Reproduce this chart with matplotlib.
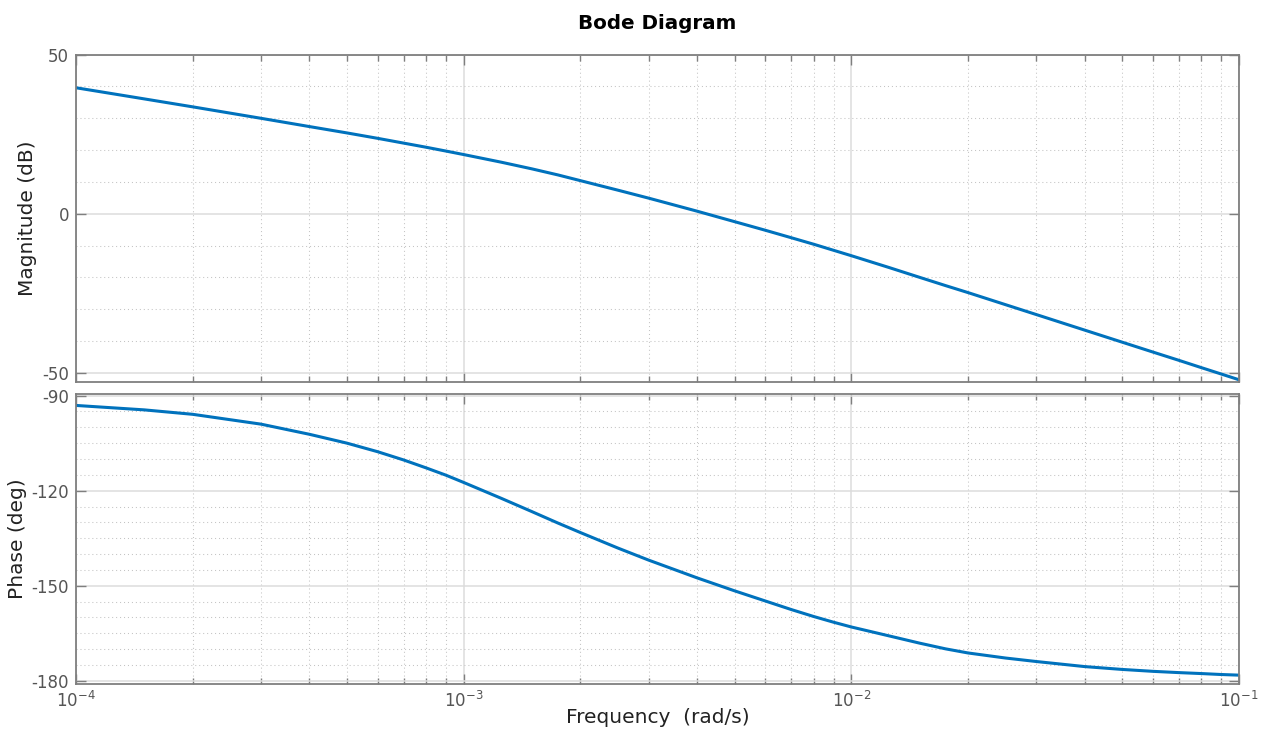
import matplotlib
matplotlib.use('Agg')
import matplotlib.pyplot as plt
from matplotlib.ticker import MultipleLocator, LogLocator, NullFormatter

# frequency points (rad/s), magnitude and phase
freq = [1e-4, 1.5e-4, 2e-4, 3e-4, 4e-4, 5e-4, 6e-4, 7e-4, 8e-4, 9e-4,
        1e-3, 1.25e-3, 1.5e-3, 1.75e-3, 2e-3, 2.5e-3, 3e-3, 4e-3, 5e-3, 6e-3,
        7e-3, 8e-3, 9e-3, 1e-2, 1.25e-2, 1.5e-2, 1.75e-2, 2e-2, 2.5e-2, 3e-2,
        4e-2, 5e-2, 6e-2, 7e-2, 8e-2, 9e-2, 1e-1]
mag_db = [39.6, 36.1, 33.6, 30.0, 27.4, 25.4, 23.7, 22.2, 20.9, 19.7,
          18.6, 16.2, 14.1, 12.2, 10.4, 7.4, 4.9, 0.8, -2.5, -5.2,
          -7.55, -9.6, -11.5, -13.2, -16.9, -20.0, -22.6, -24.8, -28.6, -31.7,
          -36.6, -40.4, -43.5, -46.1, -48.4, -50.4, -52.2]
phase_deg = [-93.1, -94.5, -95.9, -99.0, -102.2, -105.0, -107.7, -110.3, -112.8, -115.1,
             -117.4, -122.4, -126.6, -130.2, -133.2, -138.1, -141.9, -147.5, -151.6, -154.8,
             -157.5, -159.7, -161.5, -163.0, -165.8, -168.1, -169.9, -171.2, -172.8, -173.9,
             -175.5, -176.4, -177.0, -177.4, -177.7, -178.0, -178.2]

plt.rcParams['font.family'] = ['DejaVu Sans']
plt.rcParams['axes.unicode_minus'] = False

line_c = '#0072BD'
spine_c = '#7f7f7f'
tick_c = '#555555'

fig = plt.figure(figsize=(12.64, 7.29), dpi=100)
ax1 = fig.add_axes([0.0601, 0.4756, 0.9201, 0.4494])
ax2 = fig.add_axes([0.0601, 0.0617, 0.9201, 0.3978])

def style(ax):
	ax.set_xscale('log')
	ax.set_xlim(1e-4, 1e-1)
	ax.xaxis.set_major_locator(LogLocator(base=10, numticks=10))
	ax.xaxis.set_minor_locator(LogLocator(base=10, subs=range(2, 10), numticks=20))
	ax.xaxis.set_minor_formatter(NullFormatter())
	for s in ax.spines.values():
		s.set_color(spine_c)
		s.set_linewidth(1.3)
	ax.tick_params(which='both', direction='in', top=True, right=True,
	               colors=spine_c, labelcolor=tick_c, labelsize=12, width=1)
	ax.tick_params(which='major', length=7, pad=5)
	ax.tick_params(which='minor', length=4)
	ax.tick_params(axis='y', which='minor', length=0)
	ax.grid(True, which='major', color='#dcdcdc', linestyle='-', linewidth=1.1)
	ax.grid(True, which='minor', color='#c4c4c4', linestyle=(0, (1, 2.8)), linewidth=0.75)
	ax.set_axisbelow(True)

ax1.plot(freq, mag_db, color=line_c, linewidth=2.2)
style(ax1)
ax1.set_ylim(-53, 50)
ax1.set_yticks([-50, 0, 50])
ax1.yaxis.set_minor_locator(MultipleLocator(10))
ax1.tick_params(axis='x', labelbottom=False)
ax1.set_ylabel('Magnitude (dB)', fontsize=14.5, color='#222222')
ax1.yaxis.label.set_va('center')
ax1.yaxis.set_label_coords(-0.0413, 0.5)

ax2.plot(freq, phase_deg, color=line_c, linewidth=2.2)
style(ax2)
ax2.set_ylim(-181, -89.5)
ax2.set_yticks([-180, -150, -120, -90])
ax2.yaxis.set_minor_locator(MultipleLocator(5))
ax2.set_ylabel('Phase (deg)', fontsize=14.5, color='#222222')
ax2.yaxis.label.set_va('center')
ax2.yaxis.set_label_coords(-0.0507, 0.5)
ax2.set_xlabel('Frequency  (rad/s)', fontsize=14.5, color='#222222')
ax2.xaxis.label.set_va('baseline')
ax2.xaxis.set_label_coords(0.5, -0.1355)

fig.text(0.52, 0.9598, 'Bode Diagram', fontsize=14.3, fontweight='bold',
         ha='center', va='baseline')

fig.savefig('out.png', dpi=100)
